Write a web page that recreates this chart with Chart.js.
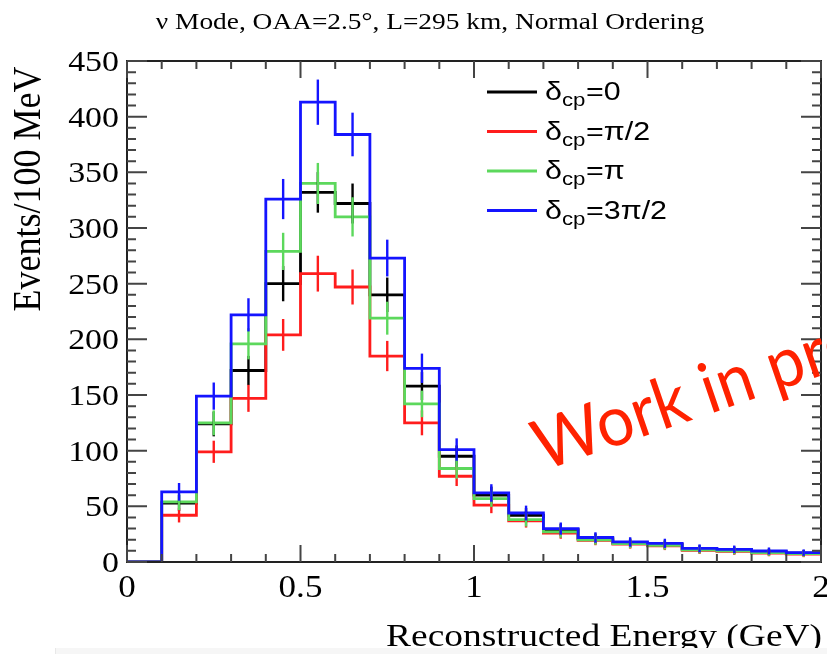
<!DOCTYPE html>
<html>
<head>
<meta charset="utf-8">
<script src="https://cdn.jsdelivr.net/npm/chart.js@4/dist/chart.umd.min.js"></script>
<style>
  html, body { margin: 0; padding: 0; background: #ffffff; }
  #wrap { width: 827px; height: 654px; position: relative; }
  canvas { display: block; }
</style>
</head>
<body>
<div id="wrap"><canvas id="c" width="827" height="654"></canvas></div>
<script>
// Reconstructed-energy bins (lower edges, GeV), 100 MeV wide
const binLow = [0.0, 0.1, 0.2, 0.3, 0.4, 0.5, 0.6, 0.7, 0.8, 0.9,
                1.0, 1.1, 1.2, 1.3, 1.4, 1.5, 1.6, 1.7, 1.8, 1.9];
const binWidth = 0.1;

// Expected events per bin for each value of delta_CP
const dcp0     = [0, 53, 124, 172, 250, 332, 322, 240, 158, 95, 60, 42, 29, 21, 17, 15.5, 11.5, 10.5, 9, 8];
const dcpPi2   = [0, 42,  99, 147, 204, 259, 247, 185, 125, 77, 51, 37, 26, 19.5, 16, 14.5, 10.5, 9.5, 8, 7];
const dcpPi    = [0, 54, 125, 196, 279, 340, 310, 219, 142, 84, 57, 38, 27, 20, 16.5, 15, 11, 10, 8.5, 7.5];
const dcp3Pi2  = [0, 63, 149, 222, 326, 413, 384, 273, 174, 101, 62, 44, 30, 22, 18, 16.8, 12.3, 11.4, 9.9, 8.4];

const seriesNames  = ['0', '\u03C0/2', '\u03C0', '3\u03C0/2'];
const seriesValues = [dcp0, dcpPi2, dcpPi, dcp3Pi2];
const seriesColors = ['#000000', '#ff1c1c', '#5cd85c', '#1414ff'];

// Axis ticks
const xTicks = [0, 0.5, 1, 1.5, 2];
const xTickLabels = ['0', '0.5', '1', '1.5', '2'];
const yTicks = [0, 50, 100, 150, 200, 250, 300, 350, 400, 450];
const yTickLabels = ['0', '50', '100', '150', '200', '250', '300', '350', '400', '450'];

const titleText = '\u03BD Mode, OAA=2.5\u00B0, L=295 km, Normal Ordering';
const xTitle = 'Reconstructed Energy (GeV)';
const yTitle = 'Events/100 MeV';
const stampText = 'Work in progress';

const SERIF = '"Liberation Serif", "Times New Roman", serif';
const SANS = '"Liberation Sans", Arial, sans-serif';
const SX = 1.17; // horizontal text stretch

// histogram outline: one point per lower edge plus the closing upper edge
function stepPoints(vals) {
  const pts = binLow.map((x, i) => ({ x: x, y: vals[i] }));
  pts.push({ x: binLow[binLow.length - 1] + binWidth, y: vals[vals.length - 1] });
  return pts;
}

function text(ctx, s, x, y, font, align, color, sx) {
  ctx.save();
  ctx.font = font;
  ctx.fillStyle = color || '#000';
  ctx.textAlign = align || 'left';
  ctx.textBaseline = 'alphabetic';
  ctx.translate(x, y);
  ctx.scale(sx || SX, 1);
  ctx.fillText(s, 0, 0);
  ctx.restore();
}

const framePlugin = {
  id: 'rootFrame',
  afterDatasetsDraw(chart) {
    const ctx = chart.ctx;
    const xs = chart.scales.x, ys = chart.scales.y;

    // statistical error bars at bin centres
    seriesValues.forEach((vals, k) => {
      ctx.save();
      ctx.strokeStyle = seriesColors[k];
      ctx.lineWidth = 2.4;
      vals.forEach((v, i) => {
        if (v <= 0) return;
        const e = Math.sqrt(v);
        const px = xs.getPixelForValue(binLow[i] + binWidth / 2);
        ctx.beginPath();
        ctx.moveTo(px, ys.getPixelForValue(v - e));
        ctx.lineTo(px, ys.getPixelForValue(v + e));
        ctx.stroke();
      });
      ctx.restore();
    });
  },
  afterDraw(chart) {
    const ctx = chart.ctx;
    const xs = chart.scales.x, ys = chart.scales.y;
    const a = chart.chartArea;

    ctx.save();
    // frame
    ctx.strokeStyle = '#222';
    ctx.lineWidth = 2;
    ctx.strokeRect(a.left, a.top, a.right - a.left, a.bottom - a.top);

    // ticks on all four sides, pointing inwards
    ctx.strokeStyle = '#444';
    ctx.lineWidth = 2;
    ctx.beginPath();
    for (let i = 0; i <= 20; i++) {
      const v = i * 0.1;
      const px = xs.getPixelForValue(v);
      const major = i % 5 === 0;
      const len = major ? 17 : 8;
      ctx.moveTo(px, a.bottom); ctx.lineTo(px, a.bottom - len);
      ctx.moveTo(px, a.top); ctx.lineTo(px, a.top + len);
    }
    for (let v = 0; v <= 450; v += 10) {
      const py = ys.getPixelForValue(v);
      const major = v % 50 === 0;
      const len = major ? 20 : 9;
      ctx.moveTo(a.left, py); ctx.lineTo(a.left + len, py);
      ctx.moveTo(a.right, py); ctx.lineTo(a.right - len, py);
    }
    ctx.stroke();
    ctx.restore();

    // tick labels
    yTicks.forEach((v, i) => {
      text(ctx, yTickLabels[i], 119, ys.getPixelForValue(v) + 10, '30px ' + SERIF, 'right', '#000', 1.13);
    });
    xTicks.forEach((v, i) => {
      text(ctx, xTickLabels[i], xs.getPixelForValue(v), 597, '31px ' + SERIF, 'center', '#000', 1.13);
    });

    // title
    text(ctx, titleText, 430, 29, '23px ' + SERIF, 'center', '#000', 1.19);

    // y axis title
    ctx.save();
    ctx.translate(40, 189);
    ctx.rotate(-Math.PI / 2);
    ctx.font = '36px ' + SERIF;
    ctx.fillStyle = '#000';
    ctx.textAlign = 'center';
    ctx.scale(1, 1.1);
    ctx.fillText(yTitle, 0, 0);
    ctx.restore();

    // x axis title
    text(ctx, xTitle, 822, 646, '32px ' + SERIF, 'right', '#000', 1.17);

    // legend
    const rows = [92, 131.5, 171, 210.5];
    seriesNames.forEach((name, k) => {
      const y = rows[k];
      ctx.save();
      ctx.strokeStyle = seriesColors[k];
      ctx.lineWidth = 3;
      ctx.beginPath();
      ctx.moveTo(487, y); ctx.lineTo(537, y);
      ctx.stroke();
      ctx.restore();
      text(ctx, '\u03B4', 545, y + 8, '26px ' + SANS, 'left', '#000', 1.17);
      text(ctx, 'cp', 562, y + 14, '19px ' + SANS, 'left', '#000', 1.17);
      text(ctx, '=' + name, 586, y + 8, '26px ' + SANS, 'left', '#000', 1.17);
    });

    // red stamp
    ctx.save();
    ctx.translate(543, 471);
    ctx.rotate(-0.33);
    ctx.scale(0.94, 1);
    ctx.font = '70px Lato, "Open Sans", sans-serif';
    ctx.fillStyle = '#ff2200';
    ctx.textAlign = 'left';
    ctx.fillText(stampText, 0, 0);
    ctx.restore();

    // light strip along the bottom edge
    ctx.save();
    ctx.fillStyle = '#f6f6f6';
    ctx.fillRect(55, 648, 772, 6);
    ctx.fillStyle = '#e8e8e8';
    ctx.fillRect(55, 648, 1, 6);
    ctx.restore();
  }
};

const datasets = seriesValues.map((vals, k) => ({
  label: '\u03B4cp=' + seriesNames[k],
  data: stepPoints(vals),
  stepped: 'before',
  borderColor: seriesColors[k],
  backgroundColor: seriesColors[k],
  borderWidth: 2.8,
  pointRadius: 0,
  fill: false,
  order: 3 - k
}));

new Chart(document.getElementById('c'), {
  type: 'line',
  data: { datasets: datasets },
  options: {
    responsive: false,
    animation: false,
    devicePixelRatio: 1,
    layout: { padding: { left: 127, right: 6, top: 61, bottom: 92 } },
    plugins: { legend: { display: false }, tooltip: { enabled: false }, title: { display: false } },
    scales: {
      x: { type: 'linear', min: 0, max: 2, display: false },
      y: { type: 'linear', min: 0, max: 450, display: false }
    }
  },
  plugins: [framePlugin]
});
</script>
</body>
</html>
